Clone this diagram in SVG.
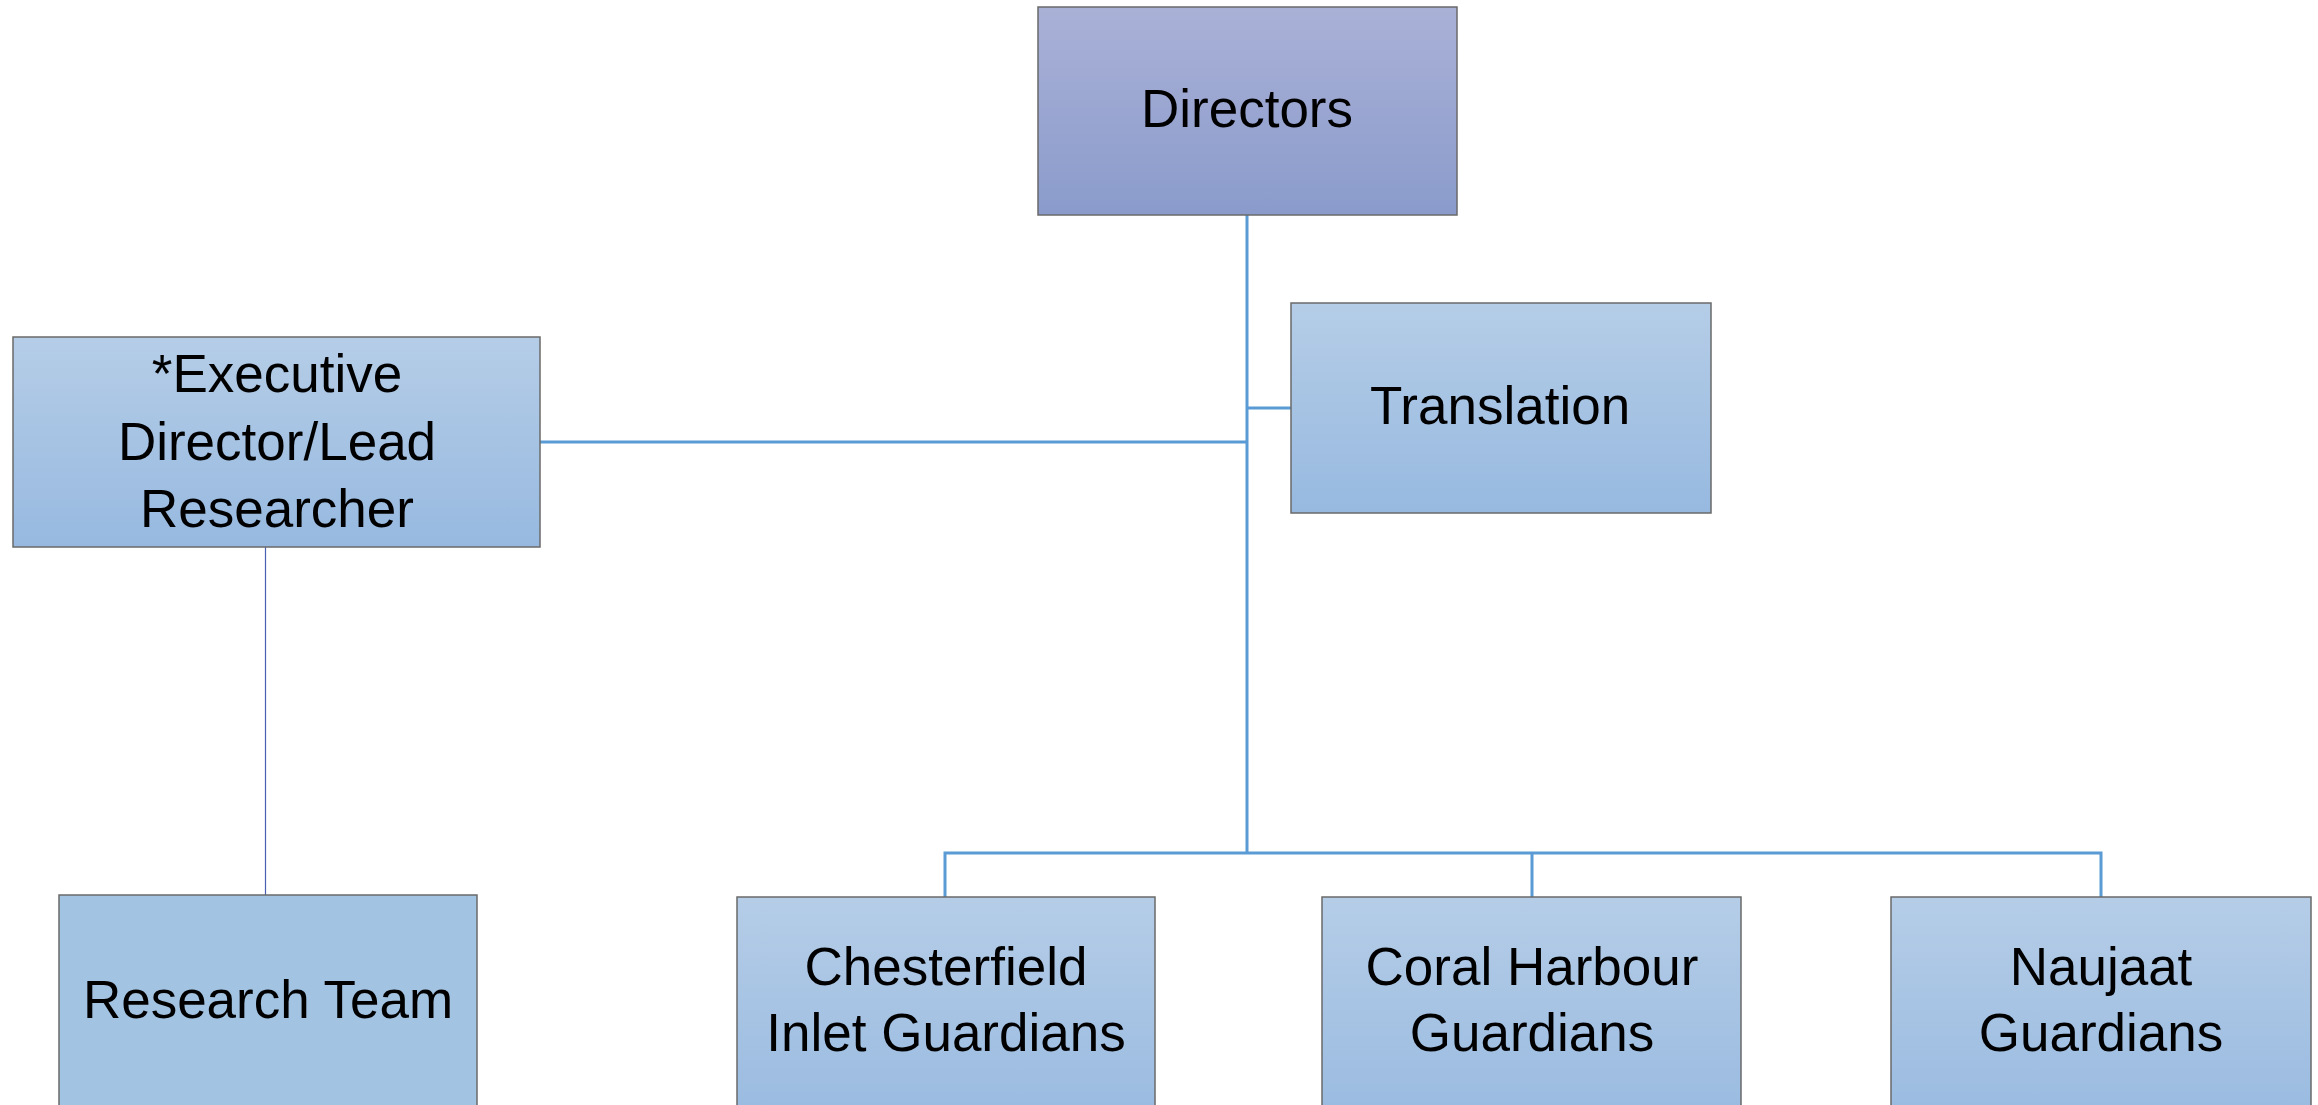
<svg xmlns="http://www.w3.org/2000/svg" width="2318" height="1105" viewBox="0 0 2318 1105">
<defs>
<linearGradient id="gDir" x1="0" y1="0" x2="0" y2="1"><stop offset="0" stop-color="#aab1d7"/><stop offset="1" stop-color="#8a9bcb"/></linearGradient>
<linearGradient id="gLight" x1="0" y1="0" x2="0" y2="1"><stop offset="0" stop-color="#b5cde7"/><stop offset="1" stop-color="#97b9e0"/></linearGradient>
<style>
.box{stroke:#6a6a6a;stroke-width:1.5}
.lt{fill:url(#gLight)}
.t{font-family:"Liberation Sans",Arial,sans-serif;font-size:53px;fill:#000;text-anchor:middle}
.ln{fill:none;stroke:#5b9bd5;stroke-width:3}
</style>
</defs>
<rect width="2318" height="1105" fill="#fff"/>
<g id="connectors">
<path class="ln" d="M1247 215 V853"/>
<path class="ln" d="M1247 408 H1291"/>
<path class="ln" d="M540 442 H1247"/>
<path class="ln" d="M945 897 V853 H2101 V897 M1532 853 V897"/>
<path d="M265.5 547 V895" fill="none" stroke="#4a5fb0" stroke-width="1.2"/>
</g>
<g id="directors"><rect class="box" x="1038" y="7" width="419" height="208" fill="url(#gDir)"/><text class="t" x="1247" y="127">Directors</text></g>
<g id="translation"><rect class="box lt" x="1291" y="303" width="420" height="210"/><text class="t" x="1500" y="424">Translation</text></g>
<g id="executive"><rect class="box lt" x="13" y="337" width="527" height="210"/><text class="t" x="277" y="392">*Executive</text><text class="t" x="277" y="460">Director/Lead</text><text class="t" x="277" y="527">Researcher</text></g>
<g id="research-team"><rect class="box" x="59" y="895" width="418" height="240" fill="#a3c3e2"/><text class="t" x="268" y="1018">Research Team</text></g>
<g id="chesterfield"><rect class="box lt" x="737" y="897" width="418" height="240"/><text class="t" x="946" y="985">Chesterfield</text><text class="t" x="946" y="1051">Inlet Guardians</text></g>
<g id="coral-harbour"><rect class="box lt" x="1322" y="897" width="419" height="240"/><text class="t" x="1532" y="985">Coral Harbour</text><text class="t" x="1532" y="1051">Guardians</text></g>
<g id="naujaat"><rect class="box lt" x="1891" y="897" width="420" height="240"/><text class="t" x="2101" y="985">Naujaat</text><text class="t" x="2101" y="1051">Guardians</text></g>
</svg>
